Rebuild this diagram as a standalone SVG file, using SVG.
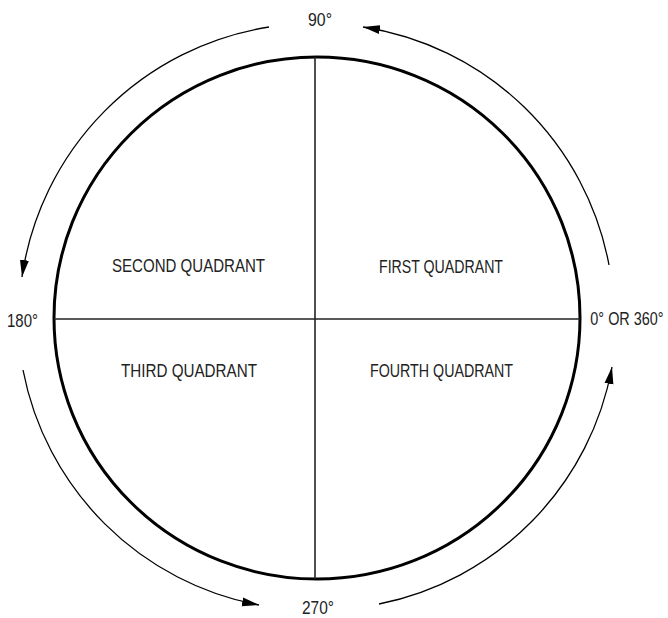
<svg xmlns="http://www.w3.org/2000/svg" width="668" height="618" viewBox="0 0 668 618">
  <style>
    .lbl { font-family: "Liberation Sans", Arial, sans-serif; font-size: 19px; fill: #222; text-anchor: middle; }
    .arc { fill: none; stroke: #000; stroke-width: 1.3; }
    .axis { stroke: #222; stroke-width: 1.6; }
  </style>
  <defs>
    <marker id="ah" viewBox="0 -5 17 10" refX="17" refY="0" markerWidth="17" markerHeight="10" markerUnits="userSpaceOnUse" orient="auto">
      <path d="M0,-4.5 L17,0 L0,4.5 z" fill="#000"/>
    </marker>
  </defs>
  <rect width="668" height="618" fill="#fff"/>
  <g id="circle">
    <ellipse cx="317" cy="318" rx="263" ry="261" fill="none" stroke="#000" stroke-width="3"/>
    <line class="axis" x1="54" y1="319" x2="580" y2="319"/>
    <line class="axis" x1="315" y1="57" x2="315" y2="579"/>
  </g>
  <g id="connectors">
    <path class="arc" d="M609,265 A296,296 0 0 0 363,27" marker-end="url(#ah)"/>
    <path class="arc" d="M269,27 A296,296 0 0 0 22,277" marker-end="url(#ah)"/>
    <path class="arc" d="M23,370 A296,296 0 0 0 259,605" marker-end="url(#ah)"/>
    <path class="arc" d="M379,604 A296,296 0 0 0 612,367" marker-end="url(#ah)"/>
  </g>
  <g id="q1"><text class="lbl" x="441" y="273" textLength="124" lengthAdjust="spacingAndGlyphs">FIRST QUADRANT</text></g>
  <g id="q2"><text class="lbl" x="188.5" y="272" textLength="153" lengthAdjust="spacingAndGlyphs">SECOND QUADRANT</text></g>
  <g id="q3"><text class="lbl" x="189" y="377" textLength="136" lengthAdjust="spacingAndGlyphs">THIRD QUADRANT</text></g>
  <g id="q4"><text class="lbl" x="441.5" y="377" textLength="143" lengthAdjust="spacingAndGlyphs">FOURTH QUADRANT</text></g>
  <g id="a90"><text class="lbl" x="320" y="26" textLength="24" lengthAdjust="spacingAndGlyphs">90°</text></g>
  <g id="a180"><text class="lbl" x="22.5" y="327" textLength="31" lengthAdjust="spacingAndGlyphs">180°</text></g>
  <g id="a0"><text class="lbl" transform="translate(627,325) scale(0.76,1)" x="0" y="0">0° OR 360°</text></g>
  <g id="a270"><text class="lbl" x="318" y="614" textLength="32" lengthAdjust="spacingAndGlyphs">270°</text></g>
</svg>
